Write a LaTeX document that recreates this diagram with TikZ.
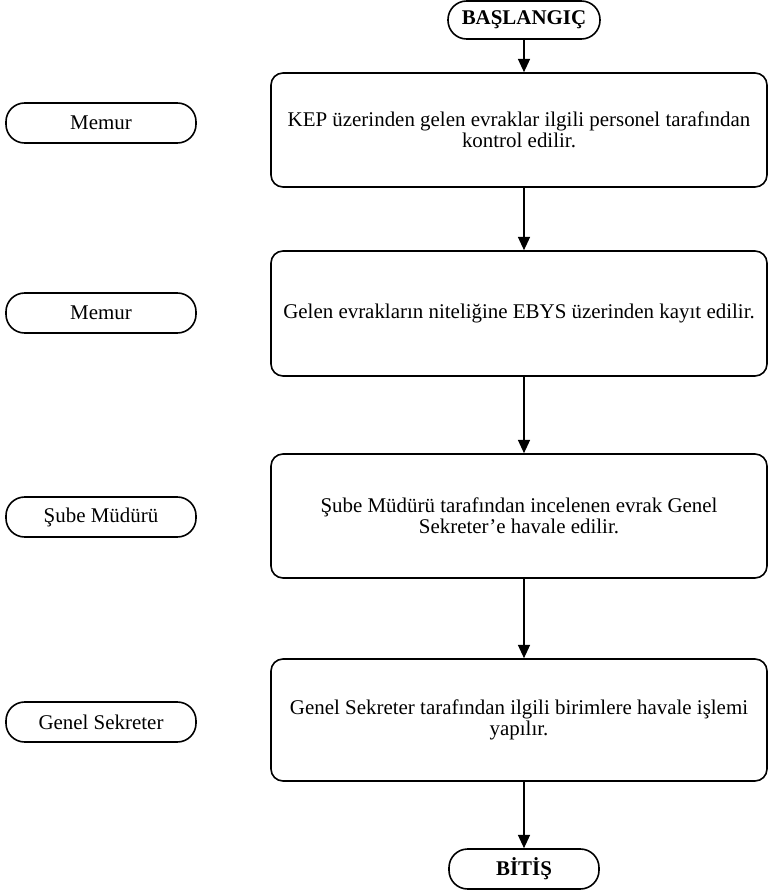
\documentclass[tikz,border=0pt]{standalone}
\usepackage{fontspec}
\setmainfont{Liberation Serif}
\usetikzlibrary{arrows.meta,positioning}

\begin{document}
\begin{tikzpicture}[x=0.75pt,y=-0.75pt,line width=1.2pt,>={Triangle[length=10pt,width=9pt]},
    font=\fontsize{15.7}{15.8}\selectfont]
    \tikzstyle{term}=[rectangle, rounded corners=14pt, draw, minimum height=30pt, inner xsep=4pt]
    \tikzstyle{role}=[term, minimum width=142.5pt]
    \tikzstyle{box}=[rectangle, rounded corners=9pt, draw, minimum width=372pt, align=center]
    \useasboundingbox (0,0) rectangle (768,892);

    % ana akis
    \node[term, minimum width=114pt, minimum height=28.5pt] (basla) at (524,20) {\textbf{BAŞLANGIÇ}};
    \node[box, minimum height=85.5pt]  (kep)    at (519,130)   {KEP üzerinden gelen evraklar ilgili personel tarafından\\kontrol edilir.};
    \node[box, minimum height=93.75pt] (kayit)  at (519,313.5) {Gelen evrakların niteliğine EBYS üzerinden kayıt edilir.};
    \node[box, minimum height=93pt]    (sube)   at (519,516)   {Şube Müdürü tarafından incelenen evrak Genel\\Sekreter’e havale edilir.};
    \node[box, minimum height=91.5pt]  (havale) at (519,720)   {Genel Sekreter tarafından ilgili birimlere havale işlemi\\yapılır.};
    \node[term, minimum width=112.5pt] (bitis)  at (524,869)   {\textbf{BİTİŞ}};

    % sorumlular
    \node[role] (memur1) at (101,123) {Memur};
    \node[role] (memur2) at (101,313) {Memur};
    \node[role] (mudur)  at (101,517) {Şube Müdürü};
    \node[role] (sekr)   at (101,722) {Genel Sekreter};

    \draw[->] (basla.south) -- (basla.south |- kep.north);
    \draw[->] (kep.south -| basla) -- (kayit.north -| basla);
    \draw[->] (kayit.south -| basla) -- (sube.north -| basla);
    \draw[->] (sube.south -| basla) -- (havale.north -| basla);
    \draw[->] (havale.south -| basla) -- (bitis.north);
\end{tikzpicture}
\end{document}
